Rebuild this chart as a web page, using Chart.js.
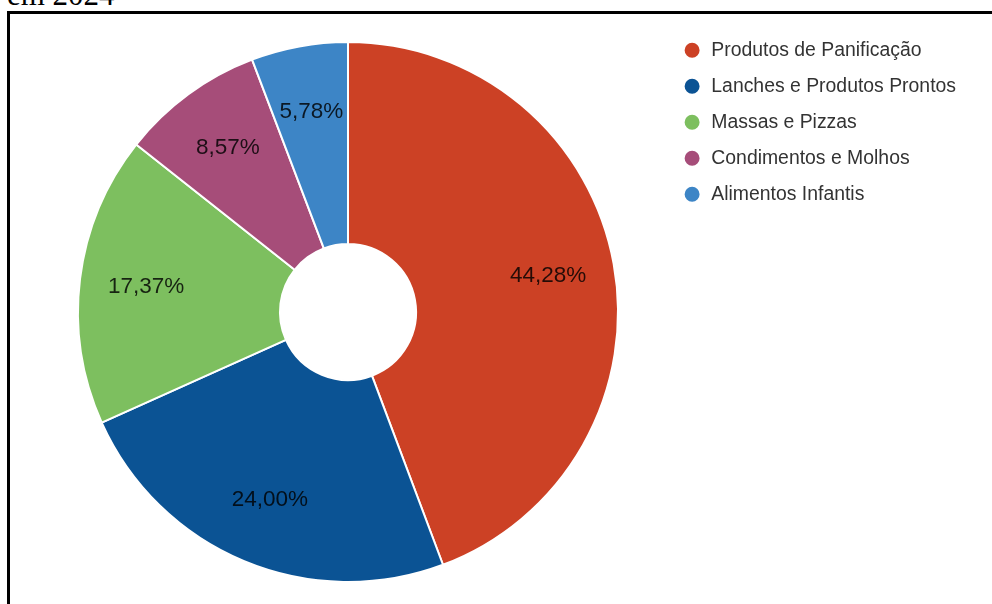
<!DOCTYPE html>
<html>
<head>
<meta charset="utf-8">
<script src="https://cdn.jsdelivr.net/npm/chart.js@4.4.1/dist/chart.umd.min.js"></script>
<style>
  html, body { margin: 0; padding: 0; overflow: hidden; background: #fff; width: 992px; height: 604px; }
  #title { position: absolute; left: 7px; top: -21px; font-family: "Liberation Serif", "Times New Roman", serif; font-size: 31px; line-height: 31px; color: #000; white-space: nowrap; }
  #frame { position: absolute; left: 7px; top: 11px; width: 1000px; height: 700px; border: 3px solid #000; box-sizing: border-box; }
  #wrap { position: absolute; left: 0; top: 0; width: 992px; height: 640px; }
</style>
</head>
<body>
<div id="title">em 2024</div>
<div id="frame"></div>
<div id="wrap"><canvas id="c" width="992" height="640"></canvas></div>
<script>
const categories = [
  "Produtos de Panificação",
  "Lanches e Produtos Prontos",
  "Massas e Pizzas",
  "Condimentos e Molhos",
  "Alimentos Infantis"
];
const shares = [44.28, 24.00, 17.37, 8.57, 5.78];
const colors = ["#cc4125", "#0b5394", "#7dbf5f", "#a64d79", "#3d85c6"];

const sliceLabels = {
  id: "sliceLabels",
  afterDatasetsDraw(chart) {
    const ctx = chart.ctx;
    const meta = chart.getDatasetMeta(0);
    ctx.save();
    ctx.font = '22.5px "Liberation Sans", Arial, sans-serif';
    ctx.fillStyle = "rgba(0,0,0,0.82)";
    ctx.textAlign = "center";
    ctx.textBaseline = "middle";
    meta.data.forEach((arc, i) => {
      const p = arc.getProps(["x", "y", "startAngle", "endAngle", "innerRadius", "outerRadius"], true);
      const mid = (p.startAngle + p.endAngle) / 2;
      const r = p.innerRadius + (p.outerRadius - p.innerRadius) * 0.67;
      const txt = shares[i].toFixed(2).replace(".", ",") + "%";
      ctx.fillText(txt, p.x + Math.cos(mid) * r, p.y + Math.sin(mid) * r);
    });
    ctx.restore();
  }
};

new Chart(document.getElementById("c"), {
  type: "doughnut",
  data: {
    labels: categories,
    datasets: [{
      data: shares,
      backgroundColor: colors,
      borderColor: "#ffffff",
      borderWidth: 2,
      radius: 270,
      cutout: "25.2%"
    }]
  },
  options: {
    responsive: false,
    animation: false,
    devicePixelRatio: 1,
    layout: { padding: { left: 30, top: 24, right: 26, bottom: 40 } },
    plugins: {
      tooltip: { enabled: false },
      legend: {
        position: "right",
        align: "start",
        labels: {
          usePointStyle: true,
          pointStyle: "circle",
          boxWidth: 19,
          boxHeight: 12,
          padding: 16.6,
          color: "#333333",
          font: { family: '"Liberation Sans", Arial, sans-serif', size: 19.4 }
        }
      }
    }
  },
  plugins: [sliceLabels]
});
</script>
</body>
</html>
